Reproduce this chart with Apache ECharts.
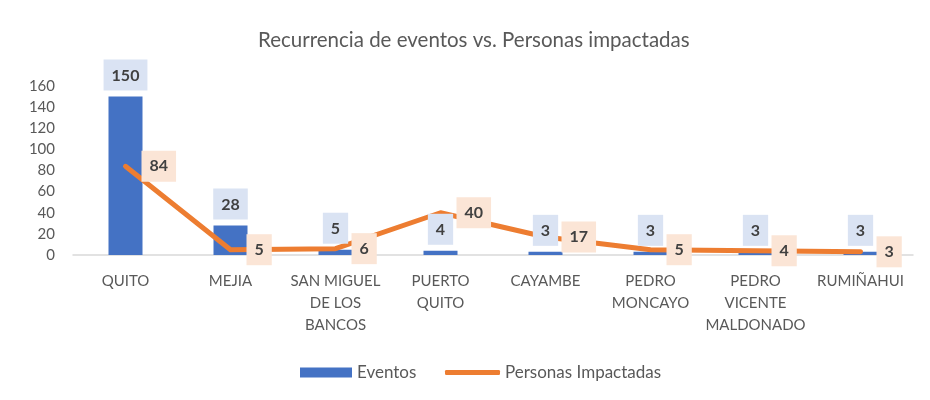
<!DOCTYPE html>
<html>
<head>
<meta charset="utf-8">
<script src="https://cdn.jsdelivr.net/npm/echarts@6/dist/echarts.min.js"></script>
<style>
  html, body { margin: 0; padding: 0; background: #fff; }
</style>
</head>
<body>
<div id="chart" style="width: 930px; height: 400px;"></div>
<script>
// datos
var cantones = ['QUITO', 'MEJIA', 'SAN MIGUEL\nDE LOS\nBANCOS', 'PUERTO\nQUITO', 'CAYAMBE', 'PEDRO\nMONCAYO', 'PEDRO\nVICENTE\nMALDONADO', 'RUMIÑAHUI'];
var eventos = [150, 28, 5, 4, 3, 3, 3, 3];
var personas = [84, 5, 6, 40, 17, 5, 4, 3];
var yTicks = { min: 0, max: 160, interval: 20 };

var fuente = 'Lato';
var gris = '#595959';

var chart = echarts.init(document.getElementById('chart'));

var etiqueta = {
  fontFamily: fuente,
  fontSize: 16,
  fontWeight: 'bold',
  color: '#404040',
  padding: [8, 8, 7, 8]
};

var option = {
  animation: false,
  textStyle: { fontFamily: fuente },
  title: {
    text: 'Recurrencia de eventos vs. Personas impactadas',
    left: 253,
    top: 25,
    textStyle: { fontFamily: fuente, fontSize: 20.5, fontWeight: 'normal', color: gris }
  },
  legend: [{
    data: ['Eventos'],
    left: 295,
    top: 359,
    icon: 'rect',
    itemWidth: 52,
    itemHeight: 10,
    itemGap: 6,
    textStyle: { fontFamily: fuente, fontSize: 17, color: gris }
  }, {
    data: ['Personas Impactadas'],
    left: 440,
    top: 359,
    icon: 'roundRect',
    itemWidth: 55,
    itemHeight: 5,
    textStyle: { fontFamily: fuente, fontSize: 17, color: gris }
  }],
  grid: {
    left: 73,
    right: 17,
    top: 86,
    bottom: 145
  },
  xAxis: {
    type: 'category',
    data: cantones,
    axisLine: { lineStyle: { color: '#d9d9d9', width: 1.5 } },
    axisTick: { show: false },
    axisLabel: {
      interval: 0,
      margin: 15,
      fontFamily: fuente,
      fontSize: 15,
      lineHeight: 22,
      color: gris
    }
  },
  yAxis: {
    type: 'value',
    min: yTicks.min,
    max: yTicks.max,
    interval: yTicks.interval,
    axisLine: { show: false },
    axisTick: { show: false },
    splitLine: { show: false },
    axisLabel: { margin: 18, fontFamily: fuente, fontSize: 15, color: gris }
  },
  series: [{
    name: 'Eventos',
    type: 'bar',
    data: eventos,
    barWidth: 34,
    z: 2,
    itemStyle: { color: '#4472c4' }
  }, {
    name: 'Personas Impactadas',
    type: 'line',
    data: personas,
    symbol: 'circle',
    symbolSize: 2,
    showSymbol: true,
    z: 3,
    lineStyle: { color: '#ed7d31', width: 5, cap: 'round', join: 'round' },
    itemStyle: { color: '#ed7d31' },
    label: Object.assign({
      show: true,
      position: 'right',
      distance: 15,
      backgroundColor: '#fbe5d6'
    }, etiqueta)
  }, {
    // barras transparentes solo para que las etiquetas queden encima de la linea
    name: 'etiquetasEventos',
    type: 'bar',
    data: eventos,
    barWidth: 34,
    barGap: '-100%',
    z: 4,
    silent: true,
    itemStyle: { color: 'rgba(0,0,0,0)' },
    label: Object.assign({
      show: true,
      position: 'top',
      distance: 6,
      backgroundColor: '#dae3f3'
    }, etiqueta)
  }]
};

chart.setOption(option);
</script>
</body>
</html>
